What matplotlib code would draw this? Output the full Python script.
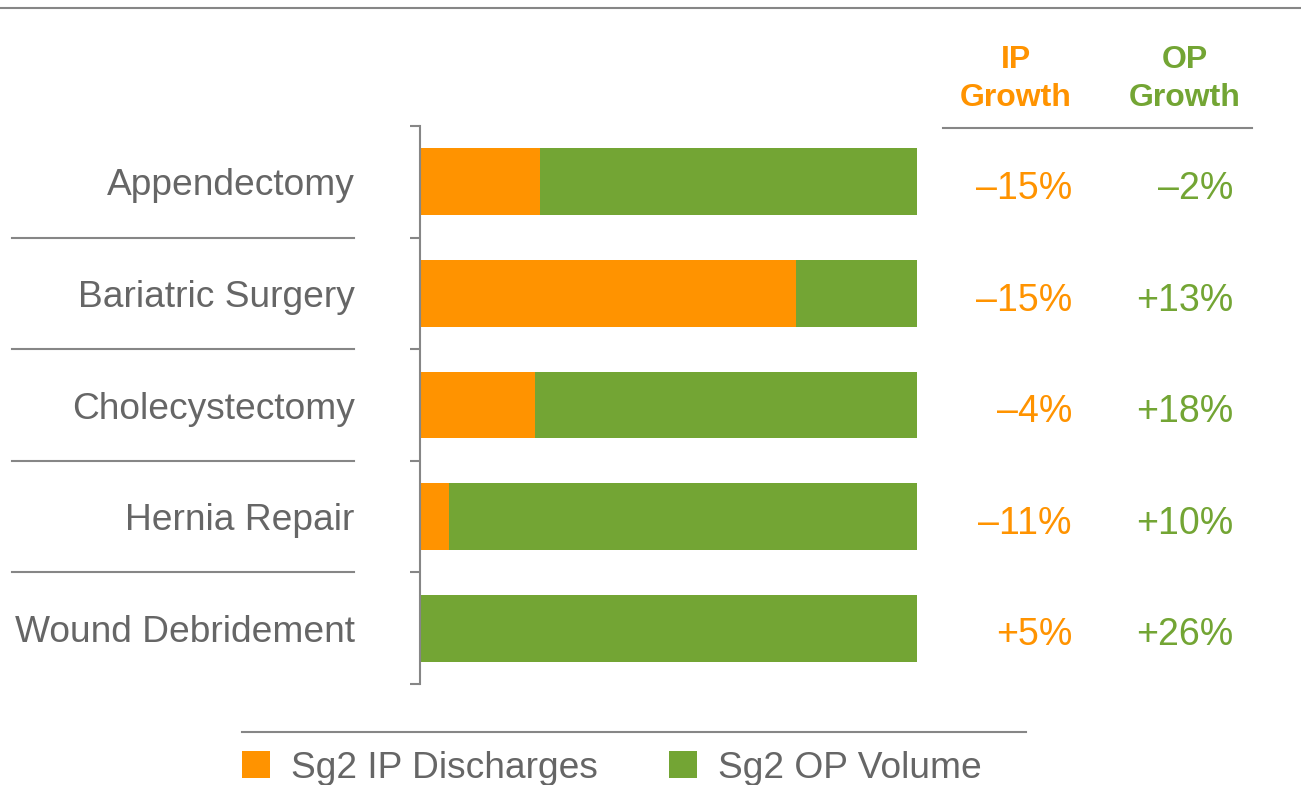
import numpy as np
import matplotlib.pyplot as plt
from matplotlib.lines import Line2D

plt.rcParams['font.family'] = ['Liberation Sans', 'DejaVu Sans']

categories = ['Appendectomy', 'Bariatric Surgery', 'Cholecystectomy', 'Hernia Repair', 'Wound Debridement']
ip_share = [0.242, 0.756, 0.232, 0.058, 0.003]
op_share = [0.758, 0.244, 0.768, 0.942, 0.997]
ip_growth = ['\u201315%', '\u201315%', '\u20134%', '\u201311%', '+5%']
op_growth = ['\u20132%', '+13%', '+18%', '+10%', '+26%']

ORANGE = '#FF9300'
GREEN = '#73A534'
TXT = '#666666'
LINE = '#868686'

W, H = 1301, 785
fig = plt.figure(figsize=(W / 100, H / 100), dpi=100)


def fx(x):
    return x / W


def fy(y):
    return 1 - y / H


# bar axes in pixel box 420..917 x 126..684
ax = fig.add_axes([fx(420), fy(684), fx(917) - fx(420), fy(126) - fy(684)])
y = np.arange(len(categories))
b1 = ax.barh(y, ip_share, height=0.6, color=ORANGE, label='Sg2 IP Discharges')
b2 = ax.barh(y, op_share, left=ip_share, height=0.6, color=GREEN, label='Sg2 OP Volume')
ax.set_xlim(0, 1)
ax.set_ylim(len(categories) - 0.5, -0.5)

for s in ['top', 'right', 'bottom']:
    ax.spines[s].set_visible(False)
ax.spines['left'].set_color(LINE)
ax.spines['left'].set_linewidth(1.5)
ax.set_xticks([])
ax.set_yticks(y)
ax.set_yticklabels(categories, fontsize=26.7, color=TXT)
ax.tick_params(axis='y', which='major', length=0, pad=47)
ax.set_yticks(np.arange(-0.5, len(categories), 1), minor=True)
ax.tick_params(axis='y', which='minor', length=7, width=1.5, color=LINE)

# separators between category labels
tr = ax.get_yaxis_transform()
ax0 = (12 - 420) / 497
ax1 = (354 - 420) / 497
for b in np.arange(0.5, len(categories) - 1, 1):
    ax.plot([ax0, ax1], [b, b], transform=tr, color=LINE, lw=1.5, clip_on=False)

# growth columns
ipx = (1072 - 420) / 497
opx = (1233 - 420) / 497
for i in range(len(categories)):
    ax.text(ipx, i + 0.155, ip_growth[i], transform=tr, ha='right', va='baseline', fontsize=27, color=ORANGE)
    ax.text(opx, i + 0.155, op_growth[i], transform=tr, ha='right', va='baseline', fontsize=27, color=GREEN)

# headers
fig.text(fx(1016), fy(79), 'IP\nGrowth', ha='center', va='center', fontsize=23,
         fontweight='bold', color=ORANGE, linespacing=1.33)
fig.text(fx(1185), fy(79), 'OP\nGrowth', ha='center', va='center', fontsize=23,
         fontweight='bold', color=GREEN, linespacing=1.33)
fig.add_artist(Line2D([fx(943), fx(1252)], [fy(128), fy(128)], color=LINE, lw=1.5))

# top rule and legend rule
fig.add_artist(Line2D([0, 1], [fy(8), fy(8)], color=LINE, lw=1.5))
fig.add_artist(Line2D([fx(242), fx(1026)], [fy(732), fy(732)], color=LINE, lw=1.5))

fig.legend(handles=[b1, b2], loc='center left', bbox_to_anchor=(fx(242), fy(768)),
           ncol=2, frameon=False, fontsize=26.7, labelcolor=TXT,
           handlelength=0.756, handleheight=0.756, handletextpad=0.57,
           columnspacing=1.92, borderpad=0, borderaxespad=0)

fig.savefig('out.png', dpi=100)
